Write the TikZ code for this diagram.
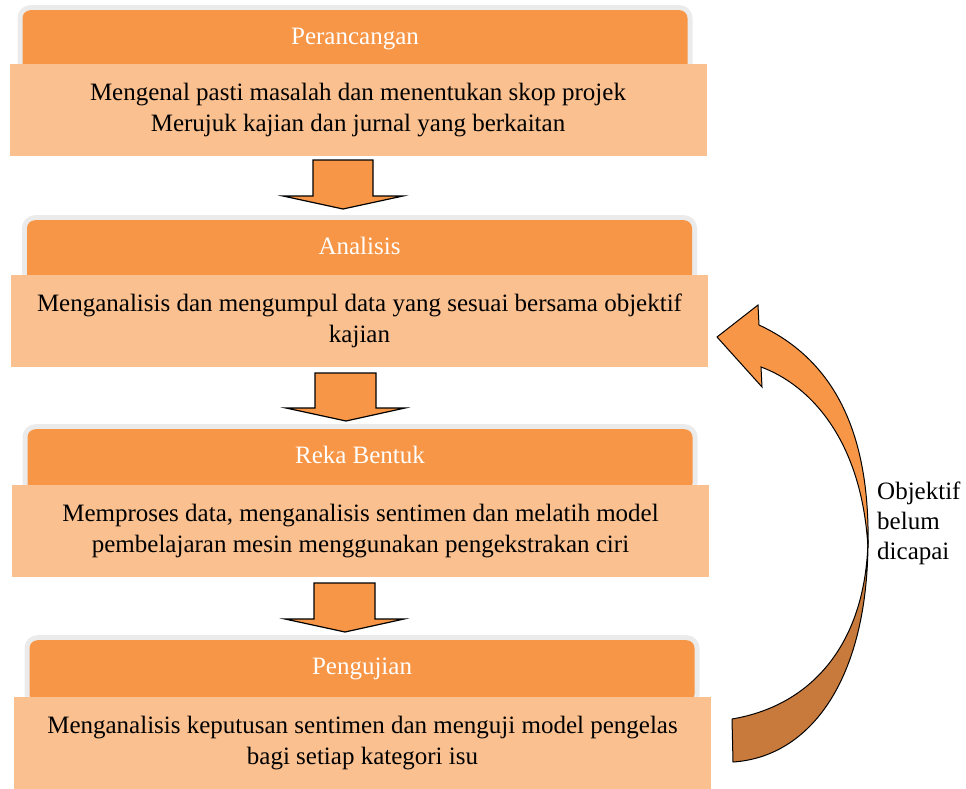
\documentclass[tikz,border=0pt]{standalone}
\usepackage{fontspec}
\setmainfont{Liberation Serif}
\usetikzlibrary{positioning}
\definecolor{hdrorange}{HTML}{F79646}
\definecolor{bodyorange}{HTML}{FAC08F}
\definecolor{darkorange}{HTML}{C77A3B}

\begin{document}
\begin{tikzpicture}[line cap=round,line join=round,x=1pt,y=-1pt,
  header/.style={anchor=north,fill=hdrorange,rounded corners=8pt,minimum width=665,inner sep=0pt,text height=34pt,text depth=28pt,text=white,font=\fontsize{25}{28}\selectfont,preaction={draw=black!8,line width=10pt}},
  stagebody/.style={anchor=north,fill=bodyorange,minimum width=697,minimum height=92,align=center,font=\fontsize{25}{31}\selectfont},
  blockarr/.style={fill=hdrorange,draw=black,line width=1.2pt,line join=miter},
  loopback/.style={draw=black,line width=1pt,line join=miter}]
\useasboundingbox (0,0) rectangle (966,789);
\clip (0,0) rectangle (966,789);
% stage 1
\node[header] (hdr1) at (355,10) {Perancangan};
\node[stagebody] (body1) at (358,64) {Mengenal pasti masalah dan menentukan skop projek\\Merujuk kajian dan jurnal yang berkaitan};
% stage 2
\node[header] (hdr2) at (359.5,220) {Analisis};
\node[stagebody] (body2) at (359.5,275) {Menganalisis dan mengumpul data yang sesuai bersama objektif\\kajian};
% stage 3
\node[header] (hdr3) at (360,429) {Reka Bentuk};
\node[stagebody] (body3) at (360.5,485) {Memproses data, menganalisis sentimen dan melatih model\\pembelajaran mesin menggunakan pengekstrakan ciri};
% stage 4
\node[header] (hdr4) at (362,640) {Pengujian};
\node[stagebody] (body4) at (362.5,697) {Menganalisis keputusan sentimen dan menguji model pengelas\\bagi setiap kategori isu};
% down arrows
\draw[blockarr] (313,160) -- (373,160) -- (373,196) -- (403,196) -- (343,209) -- (283,196) -- (313,196) -- cycle;
\draw[blockarr] (315,373) -- (376,373) -- (376,408) -- (405,408) -- (346,421) -- (286,408) -- (315,408) -- cycle;
\draw[blockarr] (314,583) -- (375,583) -- (375,619) -- (404,619) -- (345,632) -- (285,619) -- (314,619) -- cycle;
% curved arrow back to analisis
\draw[loopback,fill=darkorange] (732,719) -- (733,762) .. controls (810,757) and (868,680) .. (868,540) .. controls (866,640) and (815,705) .. (732,719) -- cycle;
\draw[loopback,fill=hdrorange] (868,548) .. controls (870,450) and (845,365) .. (759,325) -- (758,305) -- (717,337) -- (762,387) -- (761,367) .. controls (810,385) and (862,440) .. (868,548) -- cycle;
\node[anchor=north west,align=left,inner sep=0pt,font=\fontsize{25}{30}\selectfont] (note) at (877,482) {Objektif\\belum\\dicapai};
\end{tikzpicture}
\end{document}
